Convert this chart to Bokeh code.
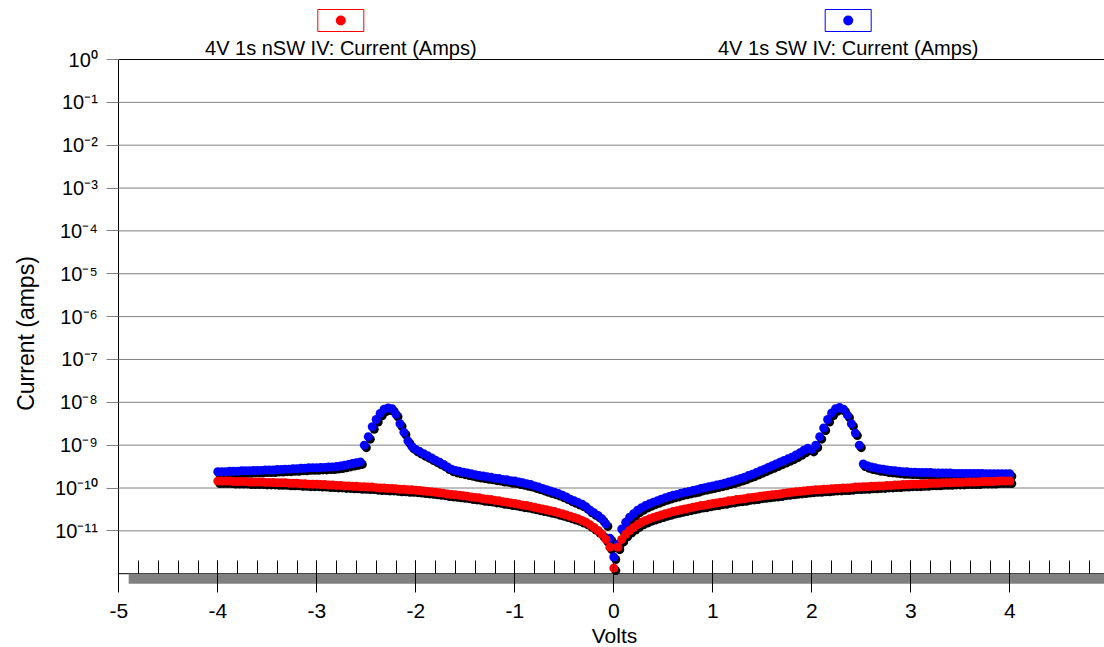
import numpy as np
from bokeh.plotting import figure
from bokeh.models import (Range1d, FixedTicker, SingleIntervalTicker,
                          CustomJSTickFormatter, Label)
from bokeh.embed import file_html
from bokeh.resources import INLINE

# ---------------- data ----------------
# sweep voltages -4.00 ... 4.00 V in 0.04 V steps
volts = np.round(np.linspace(-4.0, 4.0, 201), 2)

# 4V 1s nSW IV : current (A), V = -4.00 ... -0.04
nsw_neg = [
    1.45e-10, 1.45e-10, 1.45e-10, 1.45e-10, 1.41e-10, 1.41e-10, 1.41e-10, 1.41e-10, 1.38e-10, 1.38e-10,
    1.38e-10, 1.38e-10, 1.35e-10, 1.35e-10, 1.35e-10, 1.32e-10, 1.32e-10, 1.32e-10, 1.29e-10, 1.29e-10,
    1.29e-10, 1.26e-10, 1.26e-10, 1.23e-10, 1.23e-10, 1.23e-10, 1.20e-10, 1.20e-10, 1.17e-10, 1.17e-10,
    1.15e-10, 1.15e-10, 1.12e-10, 1.12e-10, 1.10e-10, 1.10e-10, 1.07e-10, 1.07e-10, 1.05e-10, 1.05e-10,
    1.02e-10, 1.00e-10, 1.00e-10, 9.77e-11, 9.77e-11, 9.55e-11, 9.33e-11, 9.33e-11, 9.12e-11, 9.12e-11,
    8.91e-11, 8.71e-11, 8.51e-11, 8.32e-11, 8.13e-11, 7.94e-11, 7.76e-11, 7.59e-11, 7.24e-11, 7.08e-11,
    6.92e-11, 6.76e-11, 6.61e-11, 6.46e-11, 6.17e-11, 6.03e-11, 5.89e-11, 5.62e-11, 5.50e-11, 5.37e-11,
    5.13e-11, 5.01e-11, 4.79e-11, 4.68e-11, 4.47e-11, 4.37e-11, 4.17e-11, 3.98e-11, 3.89e-11, 3.72e-11,
    3.55e-11, 3.39e-11, 3.24e-11, 3.09e-11, 2.95e-11, 2.82e-11, 2.63e-11, 2.51e-11, 2.34e-11, 2.19e-11,
    2.04e-11, 1.91e-11, 1.74e-11, 1.58e-11, 1.38e-11, 1.20e-11, 1.02e-11, 8.32e-12, 6.31e-12, 4.17e-12,
]
nsw_zero = [1.35e-12]
# V = 0.04 ... 4.00
nsw_pos = [
    4.17e-12, 6.31e-12, 8.32e-12, 1.02e-11, 1.20e-11, 1.38e-11, 1.58e-11, 1.74e-11, 1.91e-11, 2.04e-11,
    2.19e-11, 2.34e-11, 2.51e-11, 2.63e-11, 2.82e-11, 2.95e-11, 3.09e-11, 3.24e-11, 3.39e-11, 3.55e-11,
    3.72e-11, 3.89e-11, 3.98e-11, 4.17e-11, 4.37e-11, 4.47e-11, 4.68e-11, 4.79e-11, 5.01e-11, 5.13e-11,
    5.37e-11, 5.50e-11, 5.62e-11, 5.89e-11, 6.03e-11, 6.17e-11, 6.46e-11, 6.61e-11, 6.76e-11, 6.92e-11,
    7.08e-11, 7.24e-11, 7.59e-11, 7.76e-11, 7.94e-11, 8.13e-11, 8.32e-11, 8.51e-11, 8.71e-11, 8.91e-11,
    9.12e-11, 9.12e-11, 9.33e-11, 9.33e-11, 9.55e-11, 9.77e-11, 9.77e-11, 1.00e-10, 1.00e-10, 1.02e-10,
    1.05e-10, 1.05e-10, 1.07e-10, 1.07e-10, 1.10e-10, 1.10e-10, 1.12e-10, 1.12e-10, 1.15e-10, 1.15e-10,
    1.17e-10, 1.17e-10, 1.20e-10, 1.20e-10, 1.23e-10, 1.23e-10, 1.23e-10, 1.26e-10, 1.26e-10, 1.29e-10,
    1.29e-10, 1.29e-10, 1.32e-10, 1.32e-10, 1.32e-10, 1.35e-10, 1.35e-10, 1.35e-10, 1.38e-10, 1.38e-10,
    1.38e-10, 1.38e-10, 1.41e-10, 1.41e-10, 1.41e-10, 1.41e-10, 1.45e-10, 1.45e-10, 1.45e-10, 1.45e-10,
]

# 4V 1s SW IV : current (A), V = -4.00 ... -0.04
sw_neg = [
    2.40e-10, 2.40e-10, 2.40e-10, 2.45e-10, 2.45e-10, 2.45e-10, 2.51e-10, 2.51e-10, 2.51e-10, 2.57e-10,
    2.57e-10, 2.57e-10, 2.63e-10, 2.63e-10, 2.63e-10, 2.69e-10, 2.69e-10, 2.75e-10, 2.75e-10, 2.82e-10,
    2.82e-10, 2.88e-10, 2.88e-10, 2.95e-10, 2.95e-10, 2.95e-10, 3.02e-10, 3.02e-10, 3.09e-10, 3.09e-10,
    3.16e-10, 3.24e-10, 3.39e-10, 3.55e-10, 3.72e-10, 3.89e-10, 4.07e-10, 1.00e-09, 1.58e-09, 2.69e-09,
    3.98e-09, 5.50e-09, 6.92e-09, 7.41e-09, 7.08e-09, 5.25e-09, 3.16e-09, 2.00e-09, 1.26e-09, 9.33e-10,
    7.94e-10, 7.08e-10, 6.31e-10, 5.62e-10, 5.01e-10, 4.47e-10, 3.98e-10, 3.55e-10, 3.09e-10, 2.75e-10,
    2.57e-10, 2.45e-10, 2.34e-10, 2.24e-10, 2.14e-10, 2.04e-10, 1.95e-10, 1.91e-10, 1.82e-10, 1.78e-10,
    1.70e-10, 1.66e-10, 1.58e-10, 1.55e-10, 1.48e-10, 1.45e-10, 1.38e-10, 1.32e-10, 1.26e-10, 1.20e-10,
    1.12e-10, 1.05e-10, 9.77e-11, 9.12e-11, 8.51e-11, 7.94e-11, 7.41e-11, 6.76e-11, 6.17e-11, 5.50e-11,
    5.01e-11, 4.57e-11, 4.17e-11, 3.63e-11, 3.02e-11, 2.63e-11, 2.29e-11, 1.91e-11, 1.45e-11, 6.76e-12,
]
sw_zero = [2.45e-12]
# V = 0.04 ... 4.00
sw_pos = [
    4.90e-12, 1.10e-11, 1.58e-11, 2.09e-11, 2.51e-11, 3.02e-11, 3.47e-11, 3.89e-11, 4.27e-11, 4.68e-11,
    5.01e-11, 5.50e-11, 5.89e-11, 6.31e-11, 6.76e-11, 7.08e-11, 7.59e-11, 7.94e-11, 8.32e-11, 8.71e-11,
    9.12e-11, 9.77e-11, 1.02e-10, 1.07e-10, 1.12e-10, 1.17e-10, 1.23e-10, 1.29e-10, 1.38e-10, 1.45e-10,
    1.55e-10, 1.66e-10, 1.78e-10, 1.95e-10, 2.09e-10, 2.29e-10, 2.51e-10, 2.75e-10, 3.02e-10, 3.31e-10,
    3.63e-10, 3.98e-10, 4.37e-10, 4.79e-10, 5.25e-10, 5.89e-10, 6.61e-10, 7.59e-10, 8.51e-10, 7.94e-10,
    1.00e-09, 1.58e-09, 2.51e-09, 3.98e-09, 5.62e-09, 7.08e-09, 7.59e-09, 6.92e-09, 5.01e-09, 3.16e-09,
    1.91e-09, 1.00e-09, 3.63e-10, 3.31e-10, 3.09e-10, 2.95e-10, 2.82e-10, 2.75e-10, 2.63e-10, 2.57e-10,
    2.51e-10, 2.45e-10, 2.40e-10, 2.40e-10, 2.34e-10, 2.34e-10, 2.29e-10, 2.29e-10, 2.29e-10, 2.29e-10,
    2.24e-10, 2.24e-10, 2.24e-10, 2.24e-10, 2.24e-10, 2.19e-10, 2.19e-10, 2.19e-10, 2.19e-10, 2.19e-10,
    2.19e-10, 2.19e-10, 2.19e-10, 2.14e-10, 2.14e-10, 2.14e-10, 2.14e-10, 2.14e-10, 2.14e-10, 2.14e-10,
]

nsw_current = np.array(nsw_neg + nsw_zero + nsw_pos)
sw_current = np.array(sw_neg + sw_zero + sw_pos)
assert len(nsw_current) == len(volts) and len(sw_current) == len(volts)

series_names = ["4V 1s nSW IV: Current (Amps)", "4V 1s SW IV: Current (Amps)"]
series_colors = ["#ff0000", "#0000ff"]
y_decades = [0, -1, -2, -3, -4, -5, -6, -7, -8, -9, -10, -11]
x_label = "Volts"
y_label = "Current (amps)"

# ---------------- layout / styling ----------------
W, H = 1104, 647
FONT = "Liberation Sans"
GRID = "#808080"
PX_M5 = 118.3        # pixel column of V = -5
PX_PER_V = 99.0
PY_E0 = 59.0         # pixel row of 1e0
PX_PER_DEC = 42.85

def sx(px):
    return -5 + (px - PX_M5) / PX_PER_V

def sy(py):
    return 10 ** (-(py - PY_E0) / PX_PER_DEC)

X_END = sx(W)
Y_TOP = 1.0
Y_AXIS = 1e-12
Y_FLOOR = sy(583.3)

p = figure(width=W, height=H, title=None,
           x_range=Range1d(sx(0), X_END), y_range=Range1d(sy(H), sy(0)),
           y_axis_type="log", output_backend="svg", toolbar_location=None,
           min_border=0, min_border_left=0, min_border_right=0,
           min_border_top=0, min_border_bottom=0)
p.outline_line_color = None
p.background_fill_color = "white"
p.border_fill_color = "white"
p.xgrid.visible = False
p.ygrid.visible = False

# x axis (drawn inside the canvas at the floor)
xa = p.xaxis[0]
xa.fixed_location = Y_FLOOR
xa.bounds = (-5, 5)
xa.ticker = SingleIntervalTicker(interval=1, num_minor_ticks=5)
xa.formatter = CustomJSTickFormatter(code="return tick.toFixed(0);")
xa.axis_line_color = None
xa.major_tick_in = 23
xa.major_tick_out = 9
xa.minor_tick_in = 23
xa.minor_tick_out = -10
xa.major_tick_line_color = "black"
xa.minor_tick_line_color = "black"
xa.major_label_text_font = FONT
xa.major_label_text_font_size = "21px"
xa.major_label_text_color = "black"
xa.major_label_standoff = 11

# y axis
ya = p.yaxis[0]
ya.fixed_location = -5
ya.bounds = (Y_FLOOR, Y_TOP)
ya.ticker = FixedTicker(ticks=[10.0 ** d for d in y_decades])
ya.formatter = CustomJSTickFormatter(code="""
const sup = {"-": "\u207b", "0": "\u2070", "1": "\u00b9", "2": "\u00b2", "3": "\u00b3",
             "4": "\u2074", "5": "\u2075", "6": "\u2076", "7": "\u2077", "8": "\u2078", "9": "\u2079"};
const e = Math.round(Math.log10(tick));
return "10" + String(e).split("").map(c => sup[c]).join("");
""")
ya.axis_line_color = "black"
ya.major_tick_in = 0
ya.major_tick_out = 12
ya.major_tick_line_color = GRID
ya.minor_tick_line_color = None
ya.major_label_text_font = FONT
ya.major_label_text_font_size = "20px"
ya.major_label_text_color = "black"
ya.major_label_standoff = 9

# horizontal grid lines at each decade (plot area only)
grid_y = [10.0 ** d for d in y_decades[1:]]
p.segment(x0=[-5] * len(grid_y), x1=[X_END] * len(grid_y), y0=grid_y, y1=grid_y,
          line_color=GRID, line_width=1)
# top border and x-axis line
p.segment(x0=[-5, -5], x1=[X_END, X_END], y0=[Y_TOP, Y_AXIS], y1=[Y_TOP, Y_AXIS],
          line_color="black", line_width=1)
# grey floor under the x axis
p.quad(left=[-4.9], right=[X_END], bottom=[Y_FLOOR], top=[Y_AXIS],
       fill_color=GRID, line_color=None)

# drop shadows (2 px right / 2 px down)
SH_DX = 2 / PX_PER_V
SH_FY = 10 ** (-2.5 / PX_PER_DEC)
for cur in (sw_current, nsw_current):
    p.scatter(volts + SH_DX, cur * SH_FY, size=9, fill_color="black", line_color=None)
p.scatter(volts, sw_current, size=9, fill_color=series_colors[1], line_color=None)
p.scatter(volts, nsw_current, size=9, fill_color=series_colors[0], line_color=None)

# legend (above the plot area): framed dot + series name
legend_cx = [340.3, 847.7]
for name, color, cx in zip(series_names, series_colors, legend_cx):
    p.rect(x=[sx(cx)], y=[sy(20)], width=46, height=22, width_units="screen",
           height_units="screen", fill_color="white", line_color=color, line_width=1)
    p.scatter(x=[sx(cx)], y=[sy(20)], size=10, fill_color=color, line_color=None)
    p.add_layout(Label(x=cx, y=H - 47, x_units="screen", y_units="screen", text=name,
                       text_align="center", text_baseline="alphabetic",
                       text_font=FONT, text_font_size="20px", text_color="black"))

# axis titles
p.add_layout(Label(x=25, y=H - 333, x_units="screen", y_units="screen", text=y_label,
                   angle=90, angle_units="deg", text_align="center", text_baseline="middle",
                   text_font=FONT, text_font_size="23px", text_color="black"))
p.add_layout(Label(x=614, y=H - 635, x_units="screen", y_units="screen", text=x_label,
                   text_align="center", text_baseline="alphabetic",
                   text_font=FONT, text_font_size="21px", text_color="black"))

open("out.html", "w").write(file_html(p, INLINE))
